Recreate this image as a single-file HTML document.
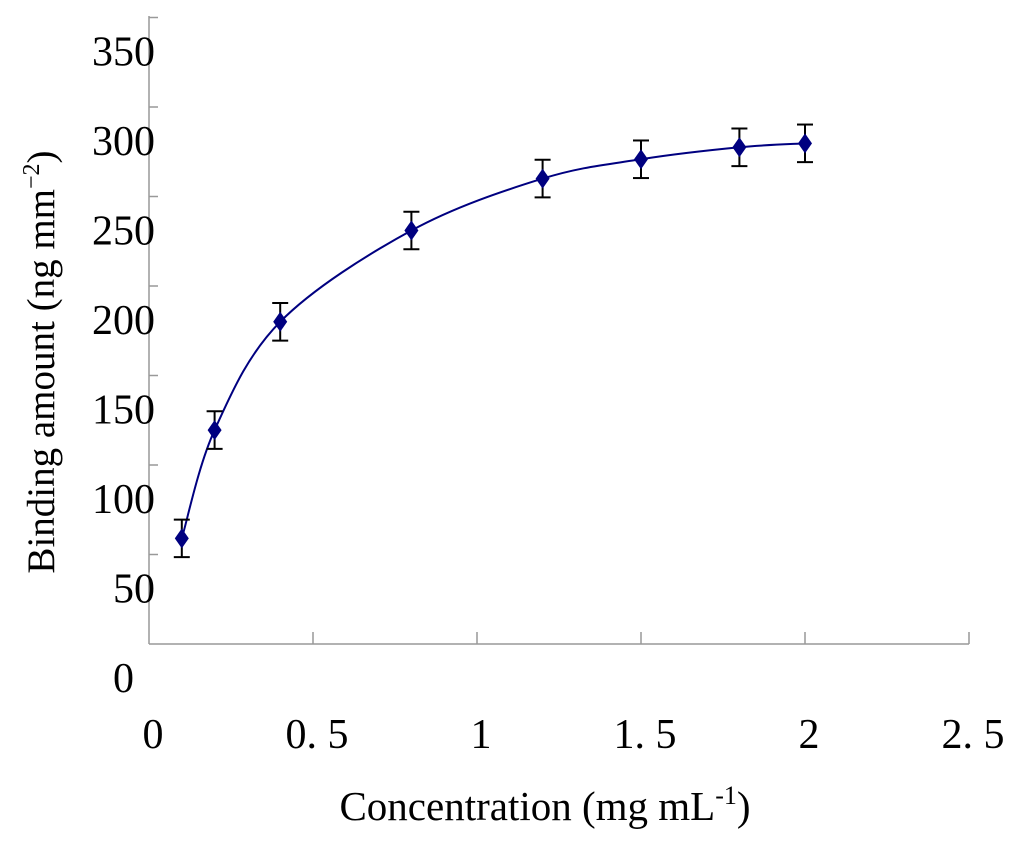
<!DOCTYPE html>
<html><head><meta charset="utf-8"><style>
html,body{margin:0;padding:0;background:#fff;}
svg text{font-family:"Liberation Serif","Noto Serif CJK SC",serif;fill:#000;}
</style></head><body>
<svg id="chart" width="1024" height="846" viewBox="0 0 1024 846" xmlns="http://www.w3.org/2000/svg">
<g id="axes"></g>
<g id="marks"></g>
<text x="545" y="820" text-anchor="middle" font-size="41">Concentration (mg mL<tspan font-size="26" dy="-16">-1</tspan><tspan dy="16">)</tspan></text>
<text transform="translate(54,362) rotate(-90)" text-anchor="middle" font-size="39">Binding amount (ng mm<tspan font-size="24" dy="-15">−2</tspan><tspan dy="15">)</tspan></text>
</svg>
<script>
const xValues=[0.1,0.2,0.4,0.8,1.2,1.5,1.8,2.0];
const yValues=[59,119.5,180,231,260,270.8,277.5,279.7];
const yErrors=[10.5,10.5,10.5,10.5,10.5,10.5,10.5,10.5];
const xTicks=[0,0.5,1,1.5,2,2.5];
const xTickLabels=["0","0. 5","1","1. 5","2","2. 5"];
const yTicks=[0,50,100,150,200,250,300,350];
const yTickLabels=["0","50","100","150","200","250","300","350"];
const NS="http://www.w3.org/2000/svg";
const X=v=>149+v*328;
const Y=v=>644-v*1.79;
function mk(tag,attrs,parent){const e=document.createElementNS(NS,tag);for(const k in attrs)e.setAttribute(k,attrs[k]);parent.appendChild(e);return e;}
const ax=document.getElementById('axes');
const mg=document.getElementById('marks');
let e=mk('line',{x1:149,y1:16,x2:149,y2:644,stroke:'#999','stroke-width':1.5},ax);


e=mk('line',{x1:149,y1:644,x2:969,y2:644,stroke:'#999','stroke-width':1.5},ax);


xTicks.forEach((t,i)=>{
  if(i>0){const l=mk('line',{x1:X(t),y1:632,x2:X(t),y2:644,stroke:'#999','stroke-width':1.5},ax);
  
  }
  const tx=mk('text',{x:X(t)+4,y:748,'text-anchor':'middle','font-size':42},ax);
  tx.textContent=xTickLabels[i];
  
  
});
yTicks.forEach((t,i)=>{
  if(i>0){const l=mk('line',{x1:149,y1:Y(t),x2:158,y2:Y(t),stroke:'#999','stroke-width':1.5},ax);
  
  }
  const tx=mk('text',{x:155,y:Y(t)+48,'text-anchor':'end','font-size':42},ax);
  tx.textContent=yTickLabels[i];
  if(t===0){tx.setAttribute('x',134);}
  
  
});
const pts=xValues.map((x,i)=>[X(x),Y(yValues[i])]);
let d='M'+pts[0][0]+','+pts[0][1];
for(let i=0;i<pts.length-1;i++){
  const p0=pts[Math.max(0,i-1)],p1=pts[i],p2=pts[i+1],p3=pts[Math.min(pts.length-1,i+2)];
  const c1=[p1[0]+(p2[0]-p0[0])/6,p1[1]+(p2[1]-p0[1])/6];
  const c2=[p2[0]-(p3[0]-p1[0])/6,p2[1]-(p3[1]-p1[1])/6];
  d+=' C'+c1+' '+c2+' '+p2;
}
e=mk('path',{d:d,fill:'none',stroke:'#000080','stroke-width':2},mg);


xValues.forEach((x,i)=>{
  const cx=X(x),cy=Y(yValues[i]),t=Y(yValues[i]+yErrors[i]),b=Y(yValues[i]-yErrors[i]);
  const g=mk('g',{},mg);
  
  
  mk('line',{x1:cx,y1:t,x2:cx,y2:b,stroke:'#000','stroke-width':2},g);
  mk('line',{x1:cx-8,y1:t,x2:cx+8,y2:t,stroke:'#000','stroke-width':2},g);
  mk('line',{x1:cx-8,y1:b,x2:cx+8,y2:b,stroke:'#000','stroke-width':2},g);
  const p=mk('polygon',{points:`${cx},${cy-10} ${cx+7},${cy} ${cx},${cy+10} ${cx-7},${cy}`,fill:'#000080'},mg);
  
  
});
</script>
</body></html>
